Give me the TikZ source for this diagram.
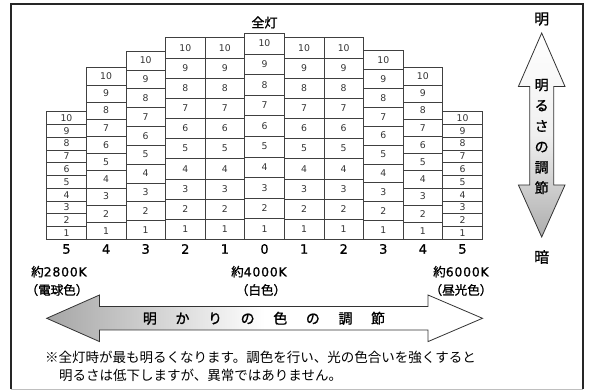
\documentclass[tikz,border=0pt]{standalone}
\usepackage{fontspec}
\setmainfont{Noto Sans CJK JP}
\newfontfamily\jpb[FakeBold=1.2]{Noto Sans CJK JP}
\newfontfamily\numf[LetterSpace=6,FakeBold=0.8]{DejaVu Sans}
\newfontfamily\cellf{DejaVu Sans}
\newcommand\jg{\hspace{18.6pt}}

\tikzset{
  cell/.style={draw=black!75, line width=0.6pt, inner sep=0pt, minimum width=39.6pt,
    font=\cellf\fontsize{9.3}{9.3}\selectfont, text=black!80},
  axislab/.style={font=\numf\fontsize{13}{13}\selectfont},
  lbl/.style={font=\jpb\fontsize{12.5}{14}\selectfont},
  arr/.style={draw=black!80, line width=0.8pt},
  big/.style={font=\jpb\fontsize{15}{15}\selectfont},
}

\begin{document}
\begin{tikzpicture}[x=1pt,y=-1pt]
\useasboundingbox (0,0) rectangle (590,390);
\draw[line width=2pt, black!85] (11,389) -- (11,4) -- (583,4) -- (583,389);
\draw[black!25] (11,389) -- (583,389);

\node[font=\jpb\fontsize{13}{13}\selectfont] (title) at (264.5,22.5) {全灯};

\foreach \col/\lab/\top in {0/5/111.7, 1/4/67.7, 2/3/51, 3/2/37.7, 4/1/37.7, 5/0/33.3,
                            6/1/37.7, 7/2/37.7, 8/3/50.7, 9/4/67.7, 10/5/111.7} {
  \pgfmathsetmacro{\h}{(239.3-\top)/10}
  \pgfmathsetmacro{\cx}{66.5+39.6*\col}
  \foreach \n in {1,...,10} {
    \node[cell, minimum height=\h pt] (c\col-\n) at (\cx,{239.3-(\n-0.5)*\h}) {\n};
  }
  \node[axislab] (n\col) at (\cx,249) {\lab};
}

\node[lbl] (k28) at (59,271.7) {約{\numf 2800K}};
\node[lbl] (d28) at (57,290) {（電球色）};
\node[lbl] (k40) at (259,271.7) {約{\numf 4000K}};
\node[lbl] (d40) at (261,290) {（白色）};
\node[lbl] (k60) at (461,271.7) {約{\numf 6000K}};
\node[lbl] (d60) at (461,290) {（昼光色）};

\shadedraw[arr, left color=black!35, right color=white, middle color=white]
  (46.7,318.3) -- (99.5,295) -- (99.5,306.6) -- (428,306.6) -- (428,295) -- (482.5,318.3)
  -- (428,341.6) -- (428,330) -- (99.5,330) -- (99.5,341.6) -- cycle;
\node[font=\jpb\fontsize{14}{14}\selectfont] (hlab) at (264,318.3)
  {明\jg か\jg り\jg の\jg 色\jg の\jg 調\jg 節};

\shadedraw[arr, top color=white, bottom color=black!32, middle color=black!6]
  (541.7,33) -- (565,86.5) -- (553.7,86.5) -- (553.7,185) -- (565,185) -- (541.7,237)
  -- (518.4,185) -- (529.7,185) -- (529.7,86.5) -- (518.4,86.5) -- cycle;
\node[font=\jpb\fontsize{14}{20.6}\selectfont, align=center] (vlab) at (541.7,136.5)
  {明\\る\\さ\\の\\調\\節};
\node[big] (bright) at (541.7,19) {明};
\node[big] (dark) at (541.7,257) {暗};

\node[anchor=base west, inner sep=0pt, font=\fontsize{13.5}{19}\selectfont] (note1) at (45,362.5)
  {※全灯時が最も明るくなります。調色を行い、光の色合いを強くすると};
\node[anchor=base west, inner sep=0pt, font=\fontsize{13.5}{19}\selectfont] (note2) at (59,381)
  {明るさは低下しますが、異常ではありません。};
\end{tikzpicture}
\end{document}
